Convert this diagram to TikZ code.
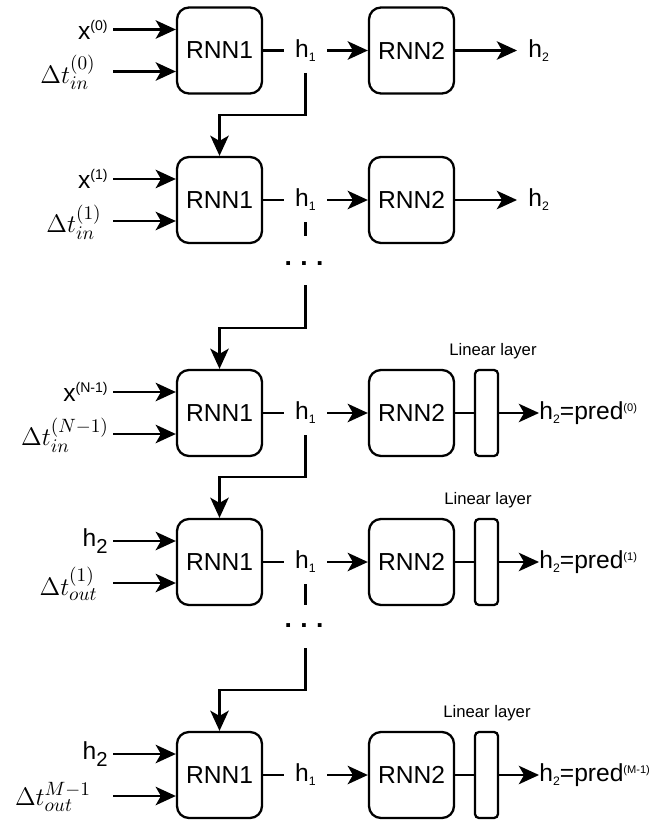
\documentclass[tikz,border=0pt]{standalone}
\usepackage{fontspec}
\setmainfont{Liberation Sans}
\usetikzlibrary{arrows.meta,positioning}

\newcommand{\hsub}[2]{#1\raisebox{-0.8mm}{\fontsize{7}{8}\selectfont #2}}
\newcommand{\hbig}{h\raisebox{-1.4mm}{\fontsize{11.5}{12}\selectfont 2}}
\newcommand{\tsup}[1]{\raisebox{1.8mm}{\fontsize{8}{9}\selectfont #1}}
\newcommand{\psup}[1]{\raisebox{1.6mm}{\fontsize{6.3}{7}\selectfont #1}}

\tikzset{
  rnnbox/.style={draw, line width=1.3pt, rounded corners=0.24cm, minimum width=1.7cm,
    minimum height=1.72cm, inner sep=0, font=\fontsize{14}{17}\selectfont},
  linbox/.style={draw, line width=1.3pt, rounded corners=0.08cm, minimum width=0.46cm,
    minimum height=1.72cm, inner sep=0},
  hlab/.style={minimum width=0.86cm, minimum height=0.88cm, inner sep=0,
    font=\fontsize{14}{17}\selectfont},
  inlab/.style={anchor=east, inner sep=0, font=\fontsize{14}{17}\selectfont},
  tlab/.style={inner sep=0, font=\fontsize{15.5}{18}\selectfont},
  outlab/.style={anchor=west, inner ysep=0, inner xsep=0, font=\fontsize{14}{17}\selectfont},
  linlab/.style={inner sep=0, font=\fontsize{9.5}{11}\selectfont},
  dotrow/.style={anchor=base, inner sep=0, font=\fontsize{15}{17}\selectfont\bfseries},
  wire/.style={line width=1.25pt},
  flow/.style={line width=1.25pt, -{Stealth[length=11.5pt,width=10.5pt,inset=3pt]}}
}

\begin{document}
\begin{tikzpicture}
\useasboundingbox (0,0) rectangle (13.24,-16.4);
% one RNN1 -> RNN2 step per row
\foreach \i/\y/\xin/\tin/\tx in {
  1/-1.01/{x\tsup{(0)}}/{$\Delta t_{in}^{(0)}$}/1.36,
  2/-4.0/{x\tsup{(1)}}/{$\Delta t_{in}^{(1)}$}/1.48,
  3/-8.26/{x\tsup{(N-1)}}/{$\Delta t_{in}^{(N-1)}$}/1.30,
  4/-11.24/{\hbig}/{$\Delta t_{out}^{(1)}$}/1.37,
  5/-15.5/{\hbig}/{$\Delta t_{out}^{M-1}$}/1.06}
{
  \node[rnnbox] (rA\i) at (4.39,\y) {RNN1};
  \node[hlab] (hA\i) at (6.11,\y) {\hsub{h}{1}};
  \node[rnnbox] (rB\i) at (8.23,\y) {RNN2};
  \coordinate (sX\i) at (2.26,\y+0.42);
  \coordinate (sT\i) at (2.26,\y-0.42);
  \node[inlab] (inX\i) at (2.16,\y+0.42) {\xin};
  \node[tlab] (inT\i) at (\tx,\y-0.44) {\tin};
  \draw[flow] (sX\i) -- (sX\i -| rA\i.west);
  \draw[flow] (sT\i) -- (sT\i -| rA\i.west);
  \draw[wire] (rA\i) -- (hA\i);
  \draw[flow] (hA\i) -- (rB\i);
}
% plain outputs
\node[outlab, inner xsep=0.22cm] (oB1) at (10.34,-1.01) {\hsub{h}{2}};
\node[outlab, inner xsep=0.22cm] (oB2) at (10.34,-4.0) {\hsub{h}{2}};
\draw[flow] (rB1) -- (oB1);
\draw[flow] (rB2) -- (oB2);
% outputs through the linear layer
\foreach \i/\y/\pr/\lx in {3/-8.26/(0)/0.13, 4/-11.24/(1)/0.03, 5/-15.5/(M-1)/0.01}
{
  \node[linbox] (lin\i) at (9.73,\y) {};
  \node[linlab, above=0.2cm of lin\i, xshift=\lx cm] (lt\i) {Linear layer};
  \node[outlab] (oB\i) at (10.78,\y) {\hsub{h}{2}=pred\psup{\pr}};
  \draw[wire] (rB\i) -- (lin\i);
  \draw[flow] (lin\i) -- (oB\i);
}
% hidden state handed down
\draw[flow] (hA1.south) -- ++(0,-0.84) -| (rA2.north);
\draw[flow] (hA3.south) -- ++(0,-0.84) -| (rA4.north);
\coordinate (gapA) at (6.11,-4.72);
\coordinate (gapB) at (6.11,-5.70);
\coordinate (gapC) at (6.11,-12.10);
\coordinate (gapD) at (6.11,-12.96);
\node[dotrow] (dotsA) at (6.08,-5.30) {.\kern0.17cm.\kern0.17cm.};
\node[dotrow] (dotsB) at (6.08,-12.54) {.\kern0.17cm.\kern0.17cm.};
\draw[wire] (hA2.south) -- (gapA);
\draw[flow] (gapB) -- ++(0,-0.86) -| (rA3.north);
\draw[wire] (hA4.south) -- (gapC);
\draw[flow] (gapD) -- ++(0,-0.84) -| (rA5.north);
\end{tikzpicture}
\end{document}
